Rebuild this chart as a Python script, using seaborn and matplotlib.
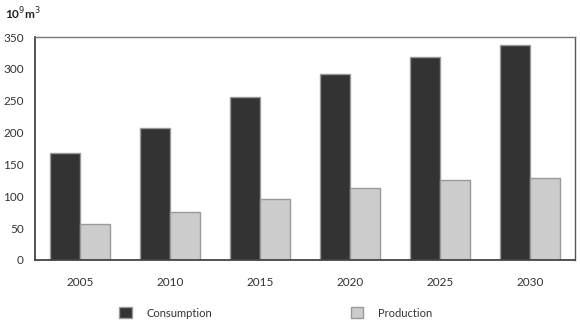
import matplotlib
matplotlib.use("Agg")
import matplotlib.pyplot as plt
import seaborn as sns
import pandas as pd
from matplotlib.patches import Patch

years = ["2005", "2010", "2015", "2020", "2025", "2030"]
consumption = [168, 207, 256, 292, 319, 337]
production = [56, 76, 96, 113, 125, 128]
series_names = ["Consumption", "Production"]
y_ticks = [0, 50, 100, 150, 200, 250, 300, 350]

df = pd.DataFrame({
    "year": years * 2,
    "value": consumption + production,
    "series": [series_names[0]] * len(years) + [series_names[1]] * len(years),
})

sns.set_style("white")
plt.rcParams["font.family"] = ["Lato", "DejaVu Sans"]

colors = {"Consumption": "#333333", "Production": "#cccccc"}
fig = plt.figure(figsize=(5.8, 3.27), dpi=100)
ax = fig.add_axes([35/580, 1-260/327, 540/580, 223/327])

sns.barplot(data=df, x="year", y="value", hue="series", palette=colors,
            width=0.667, edgecolor="#999999", linewidth=1.0, ax=ax, legend=False,
            saturation=1)

ax.set_ylim(0, 350)
ax.set_xlim(-0.5, len(years) - 0.5)
ax.set_yticks(y_ticks)
ax.set_yticklabels([str(v) for v in y_ticks])
ax.set_xlabel("")
ax.set_ylabel("")

# x ticks at boundaries, labels at centers
ax.set_xticks([i - 0.5 for i in range(len(years) + 1)], minor=False)
ax.set_xticklabels([""] * (len(years) + 1))
ax.set_xticks(range(len(years)), minor=True)
ax.set_xticklabels(years, minor=True)
ax.tick_params(axis="x", which="major", direction="out", length=8, width=1.2, color="#888888")
ax.tick_params(axis="x", which="minor", length=0, pad=12, labelsize=8.5, labelcolor="#333333")
ax.tick_params(axis="y", direction="out", length=6, width=1.2, color="#888888",
               labelsize=8.5, labelcolor="#333333", pad=2)

for s in ["left", "bottom"]:
    ax.spines[s].set_color("#444444")
    ax.spines[s].set_linewidth(1.3)
ax.spines["right"].set_color("#555555")
ax.spines["right"].set_linewidth(1.0)
ax.spines["top"].set_color("#777777")
ax.spines["top"].set_linewidth(1.0)
for s in ax.spines.values():
    s.set_visible(True)

fig.text(5/580, 1-14/327, "10$^9$m$^3$", fontsize=8.5, fontweight="bold",
         color="#222222", va="center", ha="left")

handles = [Patch(facecolor=colors[n], edgecolor="#999999", label=n) for n in series_names]
fig.legend(handles=handles, loc="center", bbox_to_anchor=(0.476, 1-313/327), ncol=2,
           frameon=False, fontsize=8, columnspacing=12.5, handlelength=1.1,
           handleheight=1.1, handletextpad=1.35, labelcolor="#333333")

fig.savefig("out.png", dpi=100)
